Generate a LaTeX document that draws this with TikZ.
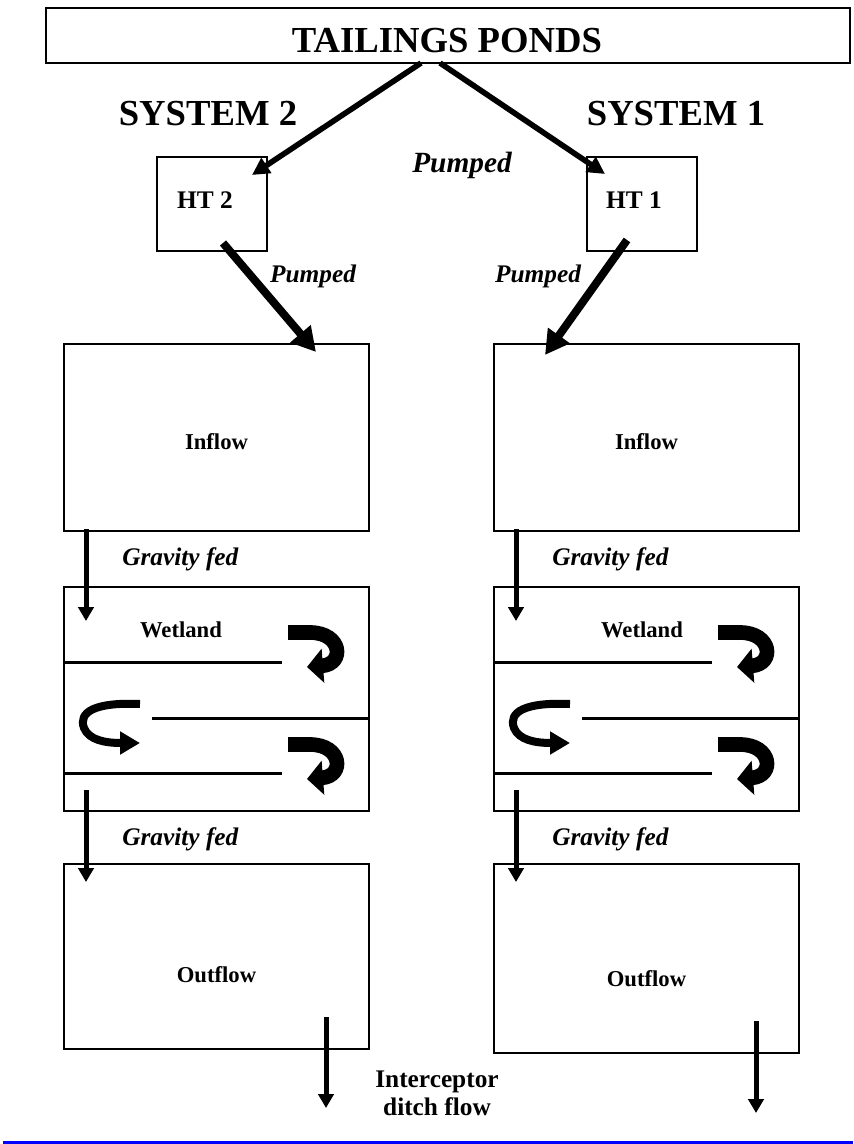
\documentclass[tikz,border=0pt]{standalone}
\usepackage{fontspec}
\setmainfont{Liberation Serif}
\usetikzlibrary{arrows.meta,positioning}
\tikzstyle{box}=[draw,line width=1.5pt,inner sep=0pt]
\tikzstyle{txt}=[anchor=base,inner sep=0pt]
\tikzstyle{flow}=[line width=3.75pt,-{Triangle[length=10.5pt,width=11.5pt]}]
\tikzstyle{feed}=[line width=4.2pt,-{Triangle[length=13pt,width=13pt]}]
\tikzstyle{pump}=[line width=6pt,-{Triangle[length=18pt,width=19pt]}]
\tikzstyle{baffle}=[line width=2.25pt]
\tikzstyle{hook}=[line width=11pt,-{Triangle[length=12pt,width=25pt]}]
\tikzstyle{turn}=[line width=6pt,-{Triangle[length=15pt,width=16.5pt]}]
\tikzset{every picture/.style={line width=0.5pt}}

\begin{document}
\begin{tikzpicture}[x=0.75pt,y=-0.75pt]
\useasboundingbox (0,0) rectangle (853,1144);
% tailings ponds and the two systems
\node[box,line width=1.9pt,minimum width=603pt,minimum height=41.25pt] (ponds) at (448,35.5) {};
\node[txt,font=\fontsize{27.5}{30}\selectfont\bfseries] (tp) at (447,53) {TAILINGS PONDS};
\node[txt,font=\fontsize{27.5}{30}\selectfont\bfseries] (sys2) at (208,126) {SYSTEM 2};
\node[txt,font=\fontsize{27.5}{30}\selectfont\bfseries] (sys1) at (676,126) {SYSTEM 1};
\node[txt,font=\fontsize{22}{24}\selectfont\bfseries\itshape] (pmain) at (462,173) {Pumped};
% holding tanks
\node[box,minimum width=82.5pt,minimum height=70.5pt] (ht2) at (212,204) {};
\node[box,minimum width=82.5pt,minimum height=70.5pt] (ht1) at (642,204) {};
\node[txt,font=\fontsize{19}{21}\selectfont\bfseries] (t2) at (205,209) {HT 2};
\node[txt,font=\fontsize{19}{21}\selectfont\bfseries] (t1) at (634,209) {HT 1};
\coordinate (o2) at (421,63);
\coordinate (o1) at (440,63);
\coordinate (h2in) at (252,175);
\coordinate (h1in) at (605,174);
\draw[feed] (o2) -- (h2in);
\draw[feed] (o1) -- (h1in);
% pumped to the inflow cells
\node[txt,font=\fontsize{19}{21}\selectfont\bfseries\itshape] (pl) at (313,283) {Pumped};
\node[txt,font=\fontsize{19}{21}\selectfont\bfseries\itshape] (pr) at (538,283) {Pumped};
\coordinate (h2out) at (223,243);
\coordinate (h1out) at (627,240);
\coordinate (i2in) at (316,352);
\coordinate (i1in) at (545,355);
\draw[pump] (h2out) -- (i2in);
\draw[pump] (h1out) -- (i1in);
% system 2 cells
\node[box,minimum width=228.75pt,minimum height=140.25pt] (in2) at (216.5,437.5) {};
\node[box,minimum width=228.75pt,minimum height=168pt] (wl2) at (216.5,699) {};
\node[box,minimum width=228.75pt,minimum height=138.75pt] (out2) at (216.5,956.5) {};
\node[txt,font=\fontsize{17}{19}\selectfont\bfseries] (n2) at (216.5,449) {Inflow};
\node[txt,font=\fontsize{17}{19}\selectfont\bfseries] (w2) at (181,637) {Wetland};
\node[txt,font=\fontsize{17}{19}\selectfont\bfseries] (u2) at (216.5,982) {Outflow};
\node[txt,font=\fontsize{19}{21}\selectfont\bfseries\itshape,anchor=base west] (g2a) at (122,565) {Gravity fed};
\node[txt,font=\fontsize{19}{21}\selectfont\bfseries\itshape,anchor=base west] (g2b) at (122,845) {Gravity fed};
\coordinate (a2) at (86,529);
\coordinate (b2) at (86,621);
\coordinate (c2) at (86,790);
\coordinate (d2) at (86,882);
\draw[flow] (a2) -- (b2);
\draw[flow] (c2) -- (d2);
\draw[baffle] (64,662) -- (282,662);
\draw[baffle] (152,718) -- (369,718);
\draw[baffle] (64,773) -- (282,773);
\draw[hook] (288,632.5) -- (310,632.5) .. controls (342,632.5) and (345,664) .. (307,667);
\draw[hook] (288,744.5) -- (310,744.5) .. controls (342,744.5) and (345,776) .. (307,779);
\draw[turn] (140,704) .. controls (95,702) and (78,712) .. (84,728) .. controls (89,740) and (105,743) .. (140,743);
% system 1 cells
\node[box,minimum width=228.75pt,minimum height=140.25pt] (in1) at (646.5,437.5) {};
\node[box,minimum width=228.75pt,minimum height=168pt] (wl1) at (646.5,699) {};
\node[box,minimum width=228.75pt,minimum height=141.75pt] (out1) at (646.5,958.5) {};
\node[txt,font=\fontsize{17}{19}\selectfont\bfseries] (n1) at (646.5,449) {Inflow};
\node[txt,font=\fontsize{17}{19}\selectfont\bfseries] (w1) at (642,637) {Wetland};
\node[txt,font=\fontsize{17}{19}\selectfont\bfseries] (u1) at (646.5,986) {Outflow};
\node[txt,font=\fontsize{19}{21}\selectfont\bfseries\itshape,anchor=base west] (g1a) at (552,565) {Gravity fed};
\node[txt,font=\fontsize{19}{21}\selectfont\bfseries\itshape,anchor=base west] (g1b) at (552,845) {Gravity fed};
\coordinate (a1) at (516,529);
\coordinate (b1) at (516,621);
\coordinate (c1) at (516,790);
\coordinate (d1) at (516,882);
\draw[flow] (a1) -- (b1);
\draw[flow] (c1) -- (d1);
\draw[baffle] (494,662) -- (712,662);
\draw[baffle] (582,718) -- (799,718);
\draw[baffle] (494,773) -- (712,773);
\draw[hook] (718,632.5) -- (740,632.5) .. controls (772,632.5) and (775,664) .. (737,667);
\draw[hook] (718,744.5) -- (740,744.5) .. controls (772,744.5) and (775,776) .. (737,779);
\draw[turn] (570,704) .. controls (525,702) and (508,712) .. (514,728) .. controls (519,740) and (535,743) .. (570,743);
% discharge
\coordinate (e2) at (326,1017);
\coordinate (f2) at (326,1108);
\coordinate (e1) at (756,1021);
\coordinate (f1) at (756,1113);
\draw[flow] (e2) -- (f2);
\draw[flow] (e1) -- (f1);
\node[txt,font=\fontsize{19}{21}\selectfont\bfseries] (ic) at (437,1087) {Interceptor};
\node[txt,font=\fontsize{19}{21}\selectfont\bfseries] (df) at (437,1115) {ditch flow};
\draw[blue,line width=2.25pt] (3,1142) -- (853,1142);
\end{tikzpicture}
\end{document}
